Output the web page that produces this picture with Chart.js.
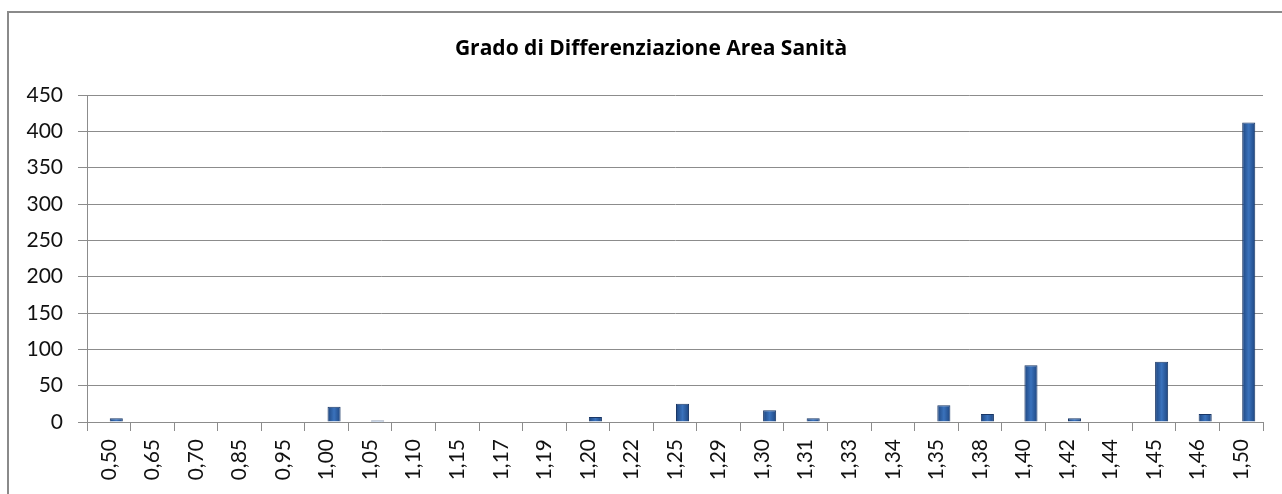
<!DOCTYPE html>
<html>
<head>
<meta charset="utf-8">
<script src="https://cdn.jsdelivr.net/npm/chart.js@4.4.1/dist/chart.umd.min.js"></script>
<style>
  html, body { margin: 0; padding: 0; background: #fff; }
  #frame { position: absolute; left: 7px; top: 11px; width: 1300px; height: 500px;
           border-top: 2px solid #8a8a8a; border-left: 2px solid #8a8a8a; }
  #wrap { position: absolute; left: 0; top: 0; width: 1282px; height: 494px; }
</style>
</head>
<body>
<div id="frame"></div>
<div id="wrap"><canvas id="canvas" width="1282" height="494"></canvas></div>
<script>
const chartTitle = 'Grado di Differenziazione Area Sanità'
const categories = ['0,50','0,65','0,70','0,85','0,95','1,00','1,05','1,10','1,15','1,17','1,19','1,20','1,22','1,25',
                    '1,29','1,30','1,31','1,33','1,34','1,35','1,38','1,40','1,42','1,44','1,45','1,46','1,50']
const counts = [5,0,0,0,0,21,2,0,0,0,0,7,0,25,0,16,5,0,0,23,11,78,5,0,83,11,412]
// serie vuota: nell'originale c'e' una seconda serie senza valori che sposta le barre a destra
const emptySeries = [null,null,null,null,null,null,null,null,null,null,null,null,null,null,
                     null,null,null,null,null,null,null,null,null,null,null,null,null]
const yTicks = [0,50,100,150,200,250,300,350,400,450]

const gridGray = '#8c8c8c'
const catPct = 0.69

// titolo disegnato a mano, centrato come nell'originale
const titlePlugin = {
    id: 'titolo',
    afterDraw(chart) {
        const c = chart.ctx
        c.save()
        c.font = 'bold 21px "Open Sans"'
        c.fillStyle = '#000'
        c.textAlign = 'center'
        c.textBaseline = 'middle'
        c.fillText(chartTitle, 651, 49)
        c.restore()
    }
}

// sfumatura orizzontale per ogni barra (bordi scuri, centro chiaro)
function barFill(ctx) {
    const chart = ctx.chart
    const xs = chart.scales.x
    if (!xs || ctx.type !== 'data') return '#2e60a3'
    const step = xs.width / categories.length
    const x = xs.getPixelForValue(ctx.dataIndex) + step * catPct / 4
    if (!isFinite(x)) return '#2e60a3'
    const g = chart.ctx.createLinearGradient(x - 7, 0, x + 7, 0)
    g.addColorStop(0, '#1c437c')
    g.addColorStop(0.5, '#3a72bc')
    g.addColorStop(1, '#1c437c')
    return g
}

const canvas = document.getElementById('canvas')
new Chart(canvas, {
    type: 'bar',
    data: {
        labels: categories,
        datasets: [{
            label: '',
            data: emptySeries,
            categoryPercentage: catPct,
            barPercentage: 0.87
        }, {
            label: 'Grado',
            data: counts,
            backgroundColor: barFill,
            borderColor: '#1a3766',
            borderWidth: 1,
            categoryPercentage: catPct,
            barPercentage: 0.87
        }]
    },
    options: {
        responsive: false,
        animation: false,
        layout: { padding: { left: 10, right: 19, top: 95, bottom: 0 } },
        plugins: {
            legend: { display: false },
            title: { display: false },
            tooltip: { enabled: false }
        },
        scales: {
            x: {
                afterFit(scale) { scale.height = 72 },
                grid: { offset: true, drawOnChartArea: false, drawTicks: true, tickLength: 9, color: gridGray, lineWidth: 1 },
                border: { color: gridGray, width: 1 },
                ticks: { maxRotation: 90, minRotation: 90, autoSkip: false, padding: 8,
                         color: '#111', font: { family: 'Lato', size: 21 } }
            },
            y: {
                min: 0,
                max: 450,
                afterFit(scale) { scale.width = 77 },
                afterBuildTicks(scale) { scale.ticks = yTicks.map(v => ({ value: v })) },
                grid: { color: gridGray, lineWidth: 1, tickLength: 9, drawTicks: true },
                border: { color: gridGray, width: 1 },
                ticks: { padding: 15, color: '#111', font: { family: 'Lato', size: 21 } }
            }
        }
    },
    plugins: [titlePlugin]
});
</script>
</body>
</html>
